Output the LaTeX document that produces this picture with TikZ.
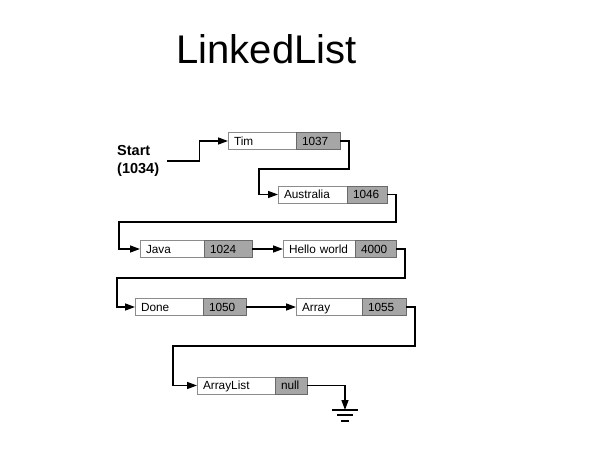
\documentclass[tikz,border=0pt]{standalone}
\usepackage{fontspec}
\setmainfont{Liberation Sans}
\usepackage{xcolor}
\usepackage{tikz}
\usetikzlibrary{positioning,calc,arrows.meta}
\definecolor{boxline}{HTML}{8C8C8C}
\definecolor{ptrfill}{HTML}{A6A6A6}
\definecolor{ptrline}{HTML}{6A6A6A}
\tikzset{
  datafield/.style={draw=boxline, fill=white, line width=0.8pt, minimum height=17pt,
    inner xsep=6pt, inner ysep=0pt, outer sep=0pt, text width=#1, align=left,
    text height=10pt, text depth=1.5pt, font=\fontsize{11.8}{14}\selectfont},
  ptrfield/.style={datafield=#1, fill=ptrfill, draw=ptrline},
  link/.style={draw=black, line width=1.4pt, -{Triangle[length=10pt,width=7pt]}},
  wire/.style={draw=black, line width=1.4pt},
}

\begin{document}
\begin{tikzpicture}[x=1pt, y=-1pt]
  \useasboundingbox (0,0) rectangle (592,455);
  \node[font=\fontsize{40}{48}\selectfont] (title) at (266.5,49) {LinkedList};
  \node[font=\bfseries\fontsize{14.5}{18}\selectfont, align=left, anchor=west, inner sep=2pt] (start) at (115,161) {Start\\(1034)};

  \node[datafield=56pt, anchor=west] (tim) at (228,141) {Tim};
  \node[ptrfield=32pt, right=0pt of tim] (timnext) {1037};
  \node[datafield=57pt, anchor=west] (aus) at (278,194.5) {Australia};
  \node[ptrfield=28pt, right=0pt of aus] (ausnext) {1046};
  \node[datafield=52pt, anchor=west] (java) at (140,249) {Java};
  \node[ptrfield=36pt, right=0pt of java] (javanext) {1024};
  \node[datafield=60pt, anchor=west] (hello) at (283,249) {Hello world};
  \node[ptrfield=29pt, right=0pt of hello] (hellonext) {4000};
  \node[datafield=56pt, anchor=west] (done) at (135,307) {Done};
  \node[ptrfield=31pt, right=0pt of done] (donenext) {1050};
  \node[datafield=54pt, anchor=west] (arr) at (296,307) {Array};
  \node[ptrfield=32pt, right=0pt of arr] (arrnext) {1055};
  \node[datafield=66pt, anchor=west] (alist) at (197,385.5) {ArrayList};
  \node[ptrfield=20pt, right=0pt of alist] (alistnext) {null};

  \draw[link] ([xshift=6pt]start.east) -- ++(32,0) |- (tim.west);
  \draw[link] (timnext.east) -- ++(9,0) -- ++(0,28) -| ([xshift=-19pt]aus.west) -- (aus.west);
  \draw[link] (ausnext.east) -- ++(9,0) -- ++(0,27.5) -| ([xshift=-21pt]java.west) -- (java.west);
  \draw[link] (javanext.east) -- (hello.west);
  \draw[link] (hellonext.east) -- ++(9,0) -- ++(0,29) -| ([xshift=-18pt]done.west) -- (done.west);
  \draw[link] (donenext.east) -- (arr.west);
  \draw[link] (arrnext.east) -- ++(9,0) -- ++(0,39) -| ([xshift=-24pt]alist.west) -- (alist.west);

  \coordinate (gnd) at (345,410);
  \draw[link] (alistnext.east) -| (gnd);
  \draw[wire] ($(gnd)+(-13,0)$) -- ($(gnd)+(13,0)$);
  \draw[wire] ($(gnd)+(-8,5)$) -- ($(gnd)+(8,5)$);
  \draw[wire] ($(gnd)+(-4,11)$) -- ($(gnd)+(4,11)$);
\end{tikzpicture}
\end{document}
